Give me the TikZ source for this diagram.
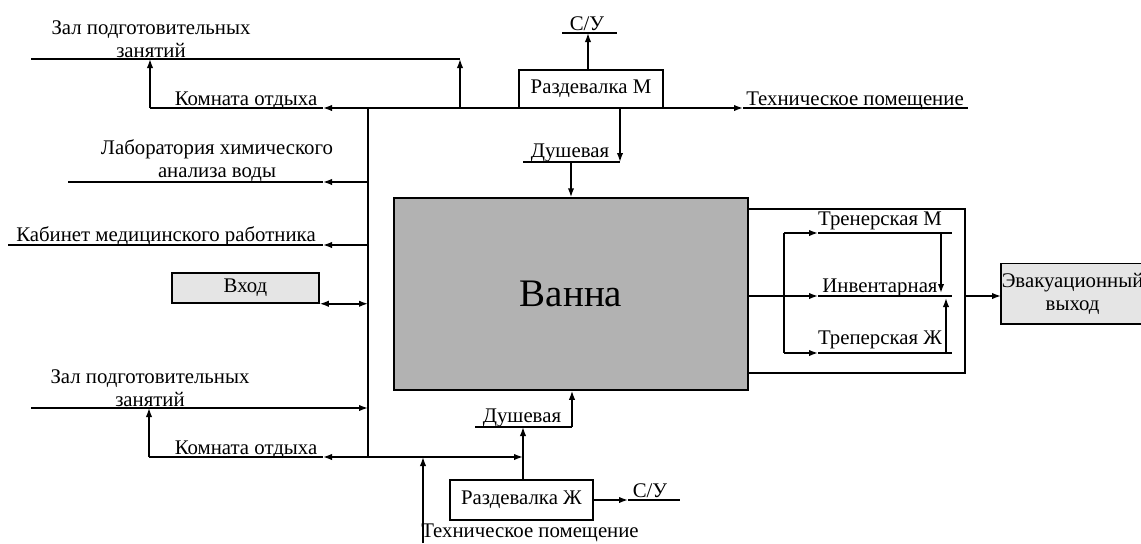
\documentclass[tikz,border=0pt]{standalone}
\usepackage{fontspec}
\setmainfont{Liberation Serif}
\usetikzlibrary{arrows.meta}
\begin{document}
\begin{tikzpicture}[x=0.5pt,y=-0.5pt,line width=0.75pt,
  lbl/.style={font=\fontsize{10.4}{11.5}\selectfont,inner sep=0pt},
  arr/.style={-{Latex[length=4.5pt,width=3.2pt]}},
  dbl/.style={{Latex[length=4.5pt,width=3.2pt]}-{Latex[length=4.5pt,width=3.2pt]}},
  roombox/.style={draw,rectangle,inner sep=0pt,font=\fontsize{10.4}{11.5}\selectfont}]
\useasboundingbox (0,0) rectangle (1141,543);

% ---- boxes
\node[roombox,fill=gray!60,minimum width=177pt,minimum height=96pt,font=\fontsize{19.5}{23}\selectfont] (vanna) at (571,294) {Ванна};
\node[roombox,fill=gray!20,minimum width=73.5pt,minimum height=15pt] (vhod) at (245.5,288) {Вход};
\node[roombox,fill=white,minimum width=72pt,minimum height=19pt] (razM) at (591,89) {Раздевалка М};
\node[roombox,minimum width=71.5pt,minimum height=20pt] (razZh) at (521.5,500) {Раздевалка Ж};
\node[fill=gray!20,inner sep=0pt,minimum width=70pt,minimum height=29.5pt,anchor=west,align=center,font=\fontsize{10.4}{11.5}\selectfont] (evac) at (1001,293.5) {Эвакуационный\\выход};
\draw (evac.north east) -- (evac.north west) -- (evac.south west) -- (evac.south east);

% ---- coordinates
\coordinate (s1) at (368,108);
\coordinate (s2) at (368,457);
\coordinate (t0) at (150,108);
\coordinate (t1) at (323,108);
\coordinate (t2) at (460,108);
\coordinate (t3) at (743,108);
\coordinate (t4) at (968,108);
\coordinate (zL) at (31,59);
\coordinate (z0) at (150,59);
\coordinate (zR) at (460,59);
\coordinate (su1L) at (562,33);
\coordinate (su1c) at (588,33);
\coordinate (su1R) at (617,33);
\coordinate (d1a) at (620,108);
\coordinate (d1b) at (620,162);
\coordinate (d1L) at (523,162);
\coordinate (d1m) at (571,162);
\coordinate (l1) at (368,182);
\coordinate (l1a) at (323,182);
\coordinate (l1e) at (68,182);
\coordinate (l2) at (368,245);
\coordinate (l2a) at (323,245);
\coordinate (l2e) at (8,245);
\coordinate (b1e) at (31,408);
\coordinate (b1) at (368,408);
\coordinate (b2) at (149,408);
\coordinate (b3) at (149,457);
\coordinate (b4) at (323,457);
\coordinate (b5) at (523,457);
\coordinate (b6) at (423,457);
\coordinate (b7) at (423,543);
\coordinate (d2a) at (523,427);
\coordinate (d2L) at (475,427);
\coordinate (d2R) at (572,427);
\coordinate (su2a) at (628,500);
\coordinate (su2e) at (680,500);
\coordinate (f1) at (965,209);
\coordinate (f2) at (965,373);
\coordinate (m1) at (818,296);
\coordinate (m2) at (952,296);
\coordinate (i1) at (784,233);
\coordinate (i1a) at (818,233);
\coordinate (i1e) at (952,233);
\coordinate (i2) at (784,353);
\coordinate (i2a) at (818,353);
\coordinate (i2e) at (952,353);
\coordinate (v1) at (941,233);
\coordinate (v1t) at (941,293);
\coordinate (v2) at (946,353);
\coordinate (v2t) at (946,298);
\coordinate (x1) at (965,296);

% ---- spine and top
\draw (s1) -- (s2);
\draw[arr] (s1) -- (t1);
\draw (t1) -- (t0);
\draw[arr] (t0) -- (z0);
\draw (zL) -- (zR);
\draw[arr] (t2) -- (zR);
\draw[arr] (s1) -- (t3);
\draw (t3) -- (t4);
\draw[arr] (su1c |- razM.north) -- (su1c);
\draw (su1L) -- (su1R);
\draw[arr] (d1a) -- (d1b);
\draw (d1L) -- (d1b);
\draw[arr] (d1m) -- (d1m |- vanna.north);

% ---- left
\draw[arr] (l1) -- (l1a);
\draw (l1a) -- (l1e);
\draw[arr] (l2) -- (l2a);
\draw (l2a) -- (l2e);
\draw[dbl] (vhod.south east) -- (vhod.south east -| s1);

% ---- bottom
\draw[arr] (b1e) -- (b1);
\draw[arr] (b3) -- (b2);
\draw[arr] (s2) -- (b4);
\draw (b4) -- (b3);
\draw[arr] (s2) -- (b5);
\draw[arr] (b7) -- (b6);
\draw[arr] (razZh.north -| d2a) -- (d2a);
\draw (d2L) -- (d2R);
\draw[arr] (d2R) -- (d2R |- vanna.south);
\draw[arr] (razZh.east) -- (su2a);
\draw (su2a) -- (su2e);

% ---- right
\draw (vanna.east |- f1) -- (f1) -- (f2) -- (vanna.east |- f2);
\draw[arr] (vanna.east |- m1) -- (m1);
\draw (m1) -- (m2);
\draw (i1) -- (i2);
\draw[arr] (i1) -- (i1a);
\draw (i1a) -- (i1e);
\draw[arr] (i2) -- (i2a);
\draw (i2a) -- (i2e);
\draw[arr] (v1) -- (v1t);
\draw[arr] (v2) -- (v2t);
\draw[arr] (x1) -- (evac.west |- x1);

% ---- labels
\node[lbl,align=center] (zal1) at (151,39) {Зал подготовительных\\занятий};
\node[lbl,anchor=base] (kom1) at (246,105) {Комната отдыха};
\node[lbl,align=center] (lab) at (217,161) {Лаборатория химического\\анализа воды};
\node[lbl,anchor=base] (kab) at (166,241) {Кабинет медицинского работника};
\node[lbl,align=center] (zal2) at (150,388) {Зал подготовительных\\занятий};
\node[lbl,anchor=base] (kom2) at (246,454) {Комната отдыха};
\node[lbl,anchor=base] (dush2) at (522,422) {Душевая};
\node[lbl,anchor=base] (su2) at (650,497) {С/У};
\node[lbl,anchor=base] (teh2) at (530,537) {Техническое помещение};
\node[lbl,anchor=base] (su1) at (587,30) {С/У};
\node[lbl,anchor=base] (teh1) at (855,105) {Техническое помещение};
\node[lbl,anchor=base] (dush1) at (570,157) {Душевая};
\node[lbl,anchor=base] (trM) at (880,225) {Тренерская М};
\node[lbl,anchor=base] (inv) at (880,292) {Инвентарная};
\node[lbl,anchor=base] (trZh) at (880,344) {Треперская Ж};
\end{tikzpicture}
\end{document}
